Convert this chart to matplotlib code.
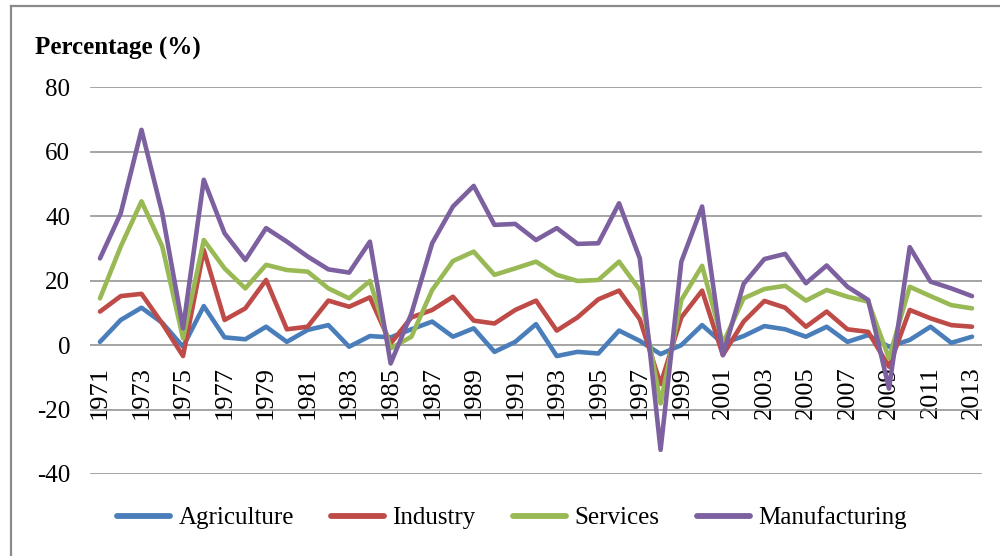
import matplotlib
matplotlib.use("Agg")
import matplotlib.pyplot as plt
from matplotlib.lines import Line2D

years = list(range(1971, 2014))
agriculture = [1.0, 7.8, 11.6, 6.9, -0.5, 12.1, 2.4, 1.8, 5.7, 1.0, 4.7, 6.2, -0.5, 2.8,
               2.4, 4.9, 7.3, 2.6, 5.2, -2.1, 1.0, 6.5, -3.4, -2.1, -2.6, 4.5, 1.3, -2.8,
               0.0, 6.2, 0.5, 2.8, 5.9, 4.9, 2.6, 5.7, 1.0, 3.1, -0.5, 1.6, 5.7, 0.7, 2.6]
industry = [10.4, 15.2, 15.9, 6.7, -3.4, 29.5, 7.8, 11.4, 20.2, 4.9, 5.7, 13.8, 11.9, 14.8,
            0.5, 8.6, 10.9, 15.0, 7.6, 6.7, 10.9, 13.8, 4.5, 8.6, 14.2, 16.9, 8.0, -12.1,
            8.6, 16.9, -3.1, 7.3, 13.7, 11.6, 5.7, 10.4, 4.9, 4.1, -6.7, 10.9, 8.3, 6.2, 5.7]
services = [14.5, 30.6, 44.6, 30.6, 2.1, 32.6, 23.8, 17.6, 24.9, 23.3, 22.8, 17.6, 14.5, 19.9,
            -1.0, 2.6, 17.1, 26.1, 29.0, 21.8, 23.8, 25.9, 21.8, 19.9, 20.2, 25.9, 17.1, -18.1,
            14.0, 24.6, 0.5, 14.5, 17.4, 18.4, 13.8, 17.1, 15.0, 13.5, -4.1, 18.1, 15.2, 12.4, 11.4]
manufacturing = [26.9, 40.9, 66.8, 40.9, 5.2, 51.3, 34.7, 26.4, 36.3, 32.1, 27.5, 23.5, 22.5, 32.1,
                 -5.7, 9.8, 31.6, 43.0, 49.4, 37.3, 37.6, 32.6, 36.3, 31.4, 31.6, 44.0, 26.9, -32.5,
                 25.9, 43.0, -3.1, 19.0, 26.7, 28.3, 19.2, 24.7, 18.1, 14.0, -13.5, 30.4, 19.7, 17.6, 15.2]
series_names = ["Agriculture", "Industry", "Services", "Manufacturing"]
y_ticks = [-40, -20, 0, 20, 40, 60, 80]

colors = ["#4A7EBB", "#BE4B48", "#98B954", "#7D60A0"]

plt.rcParams['font.family'] = ['Liberation Serif', 'DejaVu Serif']

fig = plt.figure(figsize=(10, 5.56), dpi=100)
ax = fig.add_axes([0.0896, 0.1475, 0.8928, 0.6955])

for s in ['left', 'right', 'top']:
    ax.spines[s].set_visible(False)
ax.spines['bottom'].set_position(('data', 0))
ax.spines['bottom'].set_color('none')

x = list(range(len(years)))
for name, vals, c in zip(series_names, [agriculture, industry, services, manufacturing], colors):
    ax.plot(x, vals, color=c, lw=3.3, label=name, solid_joinstyle='round', solid_capstyle='round')

ax.set_xlim(-0.5, len(years) - 0.5)
ax.set_ylim(-40, 80)
ax.set_yticks(y_ticks)
ax.set_yticklabels([str(v) for v in y_ticks], fontsize=18)
ax.yaxis.grid(True, color="#8C8C8C", lw=1.1)
ax.set_axisbelow(True)
ax.tick_params(axis='y', length=0, pad=14)

ax.set_xticks(x[::2])
ax.set_xticklabels([str(y) for y in years[::2]], rotation=90, fontsize=19, va='top', ha='center')
ax.tick_params(axis='x', length=0, pad=15)

fig.text(0.035, 1 - 55 / 556, "Percentage (%)", fontsize=18, fontweight='bold', va='baseline', ha='left')

leg = fig.legend(loc='center', bbox_to_anchor=(0.512, 1 - 518 / 556), ncol=4, frameon=False,
                 fontsize=18, handlelength=2.1, handletextpad=0.35, columnspacing=1.5)
for h in leg.get_lines():
    h.set_linewidth(4.2)

# outer frame (partially cropped)
fy = 1 - 6 / 556
fx = 11 / 1000
fig.add_artist(Line2D([fx, fx], [0, fy], transform=fig.transFigure, color="#8A8A8A", lw=1.6))
fig.add_artist(Line2D([fx, 1], [fy, fy], transform=fig.transFigure, color="#8A8A8A", lw=1.6))

fig.savefig("out.png", dpi=100)
